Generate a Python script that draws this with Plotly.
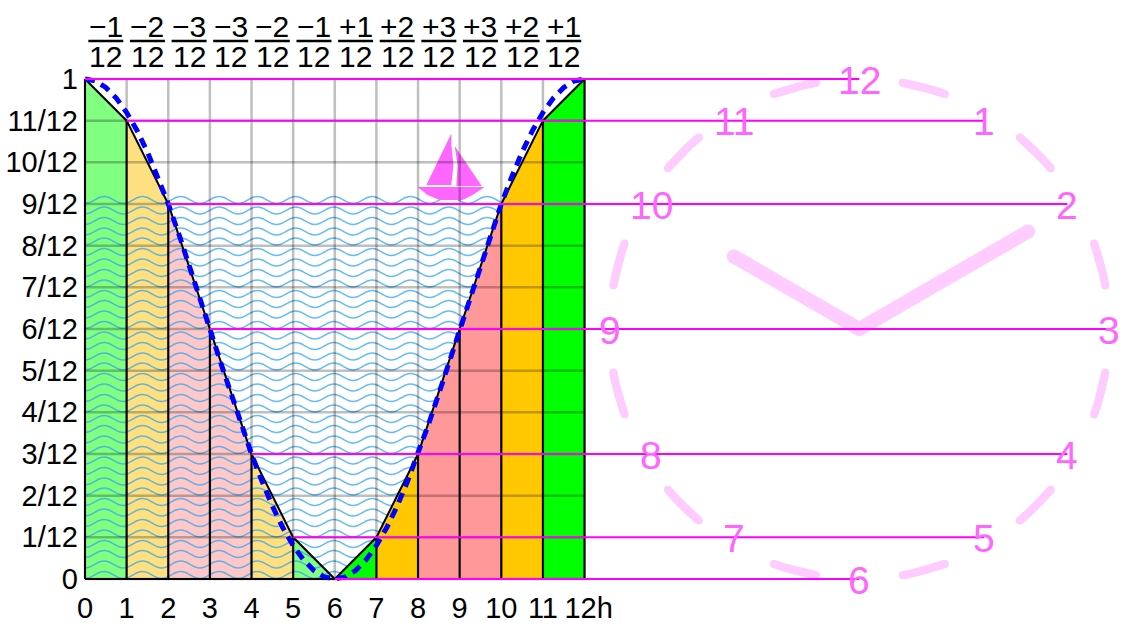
import numpy as np
import plotly.graph_objects as go

# Rule of twelfths: water height per hour
hours = [0, 1, 2, 3, 4, 5, 6, 7, 8, 9, 10, 11, 12]
twelfths = [12, 11, 9, 6, 3, 1, 0, 1, 3, 6, 9, 11, 12]
height = [t / 12 for t in twelfths]

hour_labels = ['0', '1', '2', '3', '4', '5', '6', '7', '8', '9', '10', '11', '\u00a012h']
y_labels = ['0', '1/12', '2/12', '3/12', '4/12', '5/12', '6/12', '7/12', '8/12', '9/12', '10/12', '11/12', '1']

column_colors = ['#80ff80', '#ffe080', '#ffc8c8', '#ffc8c8', '#ffe080', '#80ff80',
                 '#00ff00', '#ffc800', '#ff9999', '#ff9999', '#ffc800', '#00ff00']
change_labels = ['−1', '−2', '−3', '−3', '−2', '−1', '+1', '+2', '+3', '+3', '+2', '+1']

# dashed curve, read every quarter hour
curve_hours = [0, 0.25, 0.5, 0.75, 1, 1.25, 1.5, 1.75, 2, 2.25, 2.5, 2.75, 3, 3.25, 3.5, 3.75, 4, 4.25,
               4.5, 4.75, 5, 5.25, 5.5, 5.75, 6, 6.25, 6.5, 6.75, 7, 7.25, 7.5, 7.75, 8, 8.25, 8.5,
               8.75, 9, 9.25, 9.5, 9.75, 10, 10.25, 10.5, 10.75, 11, 11.25, 11.5, 11.75, 12]
curve_height = [1, 0.996, 0.983, 0.962, 0.933, 0.897, 0.854, 0.804, 0.75, 0.691, 0.629, 0.565, 0.5,
                0.435, 0.371, 0.309, 0.25, 0.196, 0.146, 0.103, 0.067, 0.038, 0.017, 0.004, 0,
                0.004, 0.017, 0.038, 0.067, 0.103, 0.146, 0.196, 0.25, 0.309, 0.371, 0.435, 0.5,
                0.565, 0.629, 0.691, 0.75, 0.804, 0.854, 0.897, 0.933, 0.962, 0.983, 0.996, 1]

# one wave period in eighths, starting at a trough
wave_profile = [-0.007, -0.005, 0, 0.005, 0.007, 0.005, 0, -0.005]
wave_step = 0.115
wave_rows = [0.758, 0.737, 0.716, 0.695, 0.675, 0.654, 0.633, 0.612, 0.591, 0.570, 0.550, 0.529, 0.508,
             0.487, 0.466, 0.445, 0.425, 0.404, 0.383, 0.362, 0.341, 0.320, 0.300, 0.279, 0.258, 0.237,
             0.216, 0.195, 0.175, 0.154, 0.133, 0.112, 0.091, 0.070, 0.050, 0.029, 0.008]

# boat outline
sail_left_x = [8.80, 8.20, 8.80, 8.85, 8.80]
sail_left_y = [0.891, 0.788, 0.788, 0.828, 0.868]
sail_right_x = [8.88, 9.53, 8.92, 8.95]
sail_right_y = [0.866, 0.786, 0.786, 0.828]
hull_x = [7.99, 9.60, 9.31, 9.07, 8.52, 8.23]
hull_y = [0.784, 0.784, 0.768, 0.758, 0.758, 0.768]

# clock, degrees clockwise from 12
clock_numbers = ['12', '1', '2', '3', '4', '5', '6', '7', '8', '9', '10', '11']
number_across = [0, 0.5, 0.833, 1, 0.833, 0.5, 0, -0.5, -0.833, -1, -0.833, -0.5]
number_twelfths = [12, 11, 9, 6, 3, 1, 0, 1, 3, 6, 9, 11]
dash_start = [10, 40, 70, 100, 130, 160, 190, 220, 250, 280, 310, 340]
dash_end = [20, 50, 80, 110, 140, 170, 200, 230, 260, 290, 320, 350]
hand_deg = [300, 60]
hand_len = [0.58, 0.78]
clock_cx, clock_cy = 18.6, 0.5
clock_rx, clock_ry = 6.0, 0.5

PINK = '#ffccff'
NUM = '#ff66ff'
MAG = '#ff00ff'


def clock_xy(deg, frac=1.0):
    a = np.radians(deg)
    return clock_cx + clock_rx * frac * np.sin(a), clock_cy + clock_ry * frac * np.cos(a)


fig = go.Figure()


def add_column(i):
    fig.add_trace(go.Scatter(
        x=[hours[i], hours[i], hours[i + 1], hours[i + 1]],
        y=[0, height[i], height[i + 1], 0],
        fill='toself', fillcolor=column_colors[i], mode='none', hoverinfo='skip'))


# pale columns sit under the water, the bright ones hide it
for i in range(6):
    add_column(i)

wx, wy = [], []
for row in wave_rows:
    for k in range(88):
        wx.append(k * wave_step)
        wy.append(row + wave_profile[k % 8])
    wx.append(None)
    wy.append(None)
fig.add_trace(go.Scatter(x=wx, y=wy, mode='lines', hoverinfo='skip',
                         line=dict(color='rgba(50,165,240,0.75)', width=1.5, shape='spline', smoothing=1)))

for i in range(6, 12):
    add_column(i)

# boat
for bx, by in [(sail_left_x, sail_left_y), (sail_right_x, sail_right_y), (hull_x, hull_y)]:
    fig.add_trace(go.Scatter(x=bx, y=by, fill='toself', fillcolor=NUM, mode='none', hoverinfo='skip'))

# grid
gx, gy = [], []
for h in hours:
    gx += [h, h, None]
    gy += [0, 1, None]
for t in range(13):
    gx += [0, 12, None]
    gy += [t / 12, t / 12, None]
fig.add_trace(go.Scatter(x=gx, y=gy, mode='lines', hoverinfo='skip',
                         line=dict(color='rgba(0,0,0,0.25)', width=2.5)))

# black outline and column edges
bx, by = [0, 12, None], [0, 0, None]
for h, v in zip(hours, height):
    bx += [h, h, None]
    by += [0, v, None]
fig.add_trace(go.Scatter(x=bx + hours, y=by + height, mode='lines', hoverinfo='skip',
                         line=dict(color='black', width=2)))

fig.add_trace(go.Scatter(x=curve_hours, y=curve_height, mode='lines', hoverinfo='skip',
                         line=dict(color='#0000ff', width=5, dash='10px,7px')))

# clock face
for s, e in zip(dash_start, dash_end):
    ax, ay = clock_xy(np.linspace(s, e, 12))
    fig.add_trace(go.Scatter(x=ax, y=ay, mode='lines+markers', hoverinfo='skip', cliponaxis=False,
                             line=dict(color=PINK, width=8),
                             marker=dict(color=PINK, size=8)))
for d, f in zip(hand_deg, hand_len):
    hx, hy = clock_xy(d, f)
    fig.add_trace(go.Scatter(x=[clock_cx, hx], y=[clock_cy, hy], mode='lines+markers', hoverinfo='skip',
                             line=dict(color=PINK, width=14),
                             marker=dict(color=PINK, size=14)))

nx = [clock_cx + clock_rx * a for a in number_across]
ny = [t / 12 for t in number_twelfths]

# magenta levels, from the curve over to the clock numbers
for s in range(7):
    fig.add_trace(go.Scatter(x=[hours[s], nx[s]], y=[height[s], ny[s]], mode='lines', hoverinfo='skip',
                             line=dict(color=MAG, width=2)))

for label, x, y in zip(clock_numbers, nx, ny):
    fig.add_annotation(x=x, y=y, text=label, showarrow=False, xanchor='center', yanchor='middle', yshift=-1,
                       font=dict(family='Liberation Sans', size=39, color=NUM))

# fractions on top of each column
for i, lab in enumerate(change_labels):
    xc = i + 0.5
    fig.add_annotation(x=xc, y=1, yref='paper', yanchor='middle', yshift=48, text=lab, showarrow=False,
                       font=dict(family='Liberation Sans', size=30, color='black'))
    fig.add_annotation(x=xc, y=1, yref='paper', yanchor='middle', yshift=18, text='12', showarrow=False,
                       font=dict(family='Liberation Sans', size=30, color='black'))
    fig.add_shape(type='line', x0=i + 0.08, x1=i + 0.92, xref='x', yref='paper', ysizemode='pixel', yanchor=1,
                  y0=33, y1=33, line=dict(color='black', width=2.5))

# axes run a bit past the chart so the edge lines are not clipped
fig.update_layout(
    width=1137, height=632,
    margin=dict(l=80, r=0, t=74, b=48),
    paper_bgcolor='white', plot_bgcolor='white',
    showlegend=False, hovermode=False,
    font=dict(family='Liberation Sans', size=29, color='black'),
    xaxis=dict(range=[-0.12, 25.27], tickvals=hours, ticktext=hour_labels, showgrid=False, zeroline=False,
               showline=False, ticks='', ticklabelstandoff=4, tickangle=0, automargin=False,
               tickfont=dict(size=29)),
    yaxis=dict(range=[-0.01, 1.01], tickvals=[t / 12 for t in range(13)], ticktext=y_labels, showgrid=False,
               zeroline=False, showline=False, ticks='', ticklabelstandoff=1, automargin=False,
               tickfont=dict(size=29)),
)

# page margin would push the plot 8px off
fig.write_html("out.html", config=dict(displayModeBar=False), post_script="document.body.style.margin='0';")
